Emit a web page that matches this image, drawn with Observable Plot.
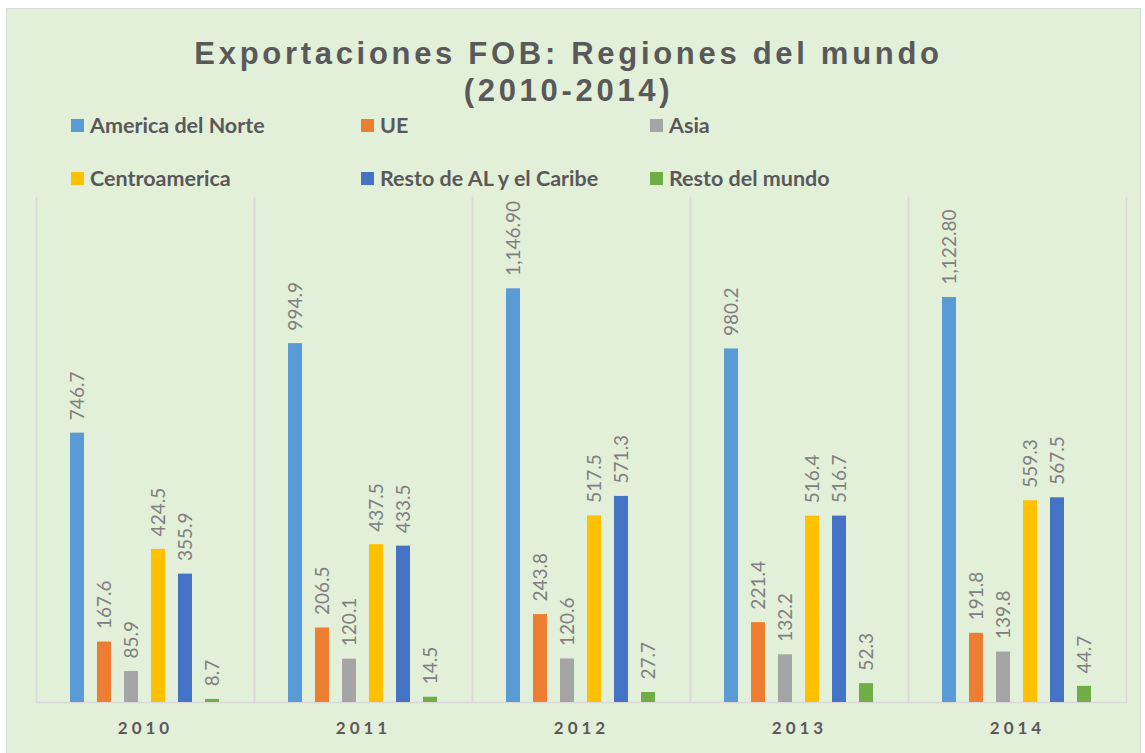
<!DOCTYPE html>
<html>
<head>
<meta charset="utf-8">
<script src="https://cdn.jsdelivr.net/npm/d3@7"></script>
<script src="https://cdn.jsdelivr.net/npm/@observablehq/plot@0.6"></script>
<style>
  html, body { margin: 0; padding: 0; background: #ffffff; width: 1145px; height: 753px; overflow: hidden; position: relative; }
  #panel { position: absolute; left: 6px; top: 8px; width: 1133px; height: 760px; background: #E2EFD9; border: 1.5px solid #D9D9D9; }
  #title { position: absolute; left: 0; top: 35px; width: 1137px; text-align: center; font-family: "Liberation Sans", Arial, sans-serif; font-weight: bold; font-size: 31px; line-height: 37px; letter-spacing: 3.7px; color: #595959; }
  #legend { position: absolute; left: 71px; top: 112px; display: grid; grid-template-columns: 290px 289px auto; grid-auto-rows: 53px; font-family: Lato, sans-serif; font-weight: bold; font-size: 21.5px; color: #595959; }
  #legend .item { display: flex; align-items: center; height: 26px; }
  #legend .sw { width: 13px; height: 13px; margin-right: 6px; flex: none; }
  #chart { position: absolute; left: 0; top: 190px; }
  #chart svg { background: transparent; }
  #chart g[aria-label="fx-axis tick label"] text { letter-spacing: 4px; }
</style>
</head>
<body>
<div id="panel"></div>
<div id="title">Exportaciones FOB: Regiones del mundo<br>(2010-2014)</div>
<div id="legend"></div>
<div id="chart"></div>
<script>
const years = ["2010", "2011", "2012", "2013", "2014"];
const series = ["America del Norte", "UE", "Asia", "Centroamerica", "Resto de AL y el Caribe", "Resto del mundo"];
const colors = ["#5B9BD5", "#ED7D31", "#A5A5A5", "#FFC000", "#4472C4", "#70AD47"];
const americaNorte = [746.7, 994.9, 1146.9, 980.2, 1122.8];
const ue = [167.6, 206.5, 243.8, 221.4, 191.8];
const asia = [85.9, 120.1, 120.6, 132.2, 139.8];
const centroamerica = [424.5, 437.5, 517.5, 516.4, 559.3];
const restoAL = [355.9, 433.5, 571.3, 516.7, 567.5];
const restoMundo = [8.7, 14.5, 27.7, 52.3, 44.7];
const seriesValues = [americaNorte, ue, asia, centroamerica, restoAL, restoMundo];

const data = [];
years.forEach((y, i) => series.forEach((s, j) => data.push({year: y, series: s, value: seriesValues[j][i]})));

const fmt = v => v >= 1000 ? d3.format(",.2f")(v) : d3.format(".1f")(v);

// legend
const legend = document.getElementById("legend");
series.forEach((s, j) => {
  const it = document.createElement("div");
  it.className = "item";
  it.innerHTML = `<span class="sw" style="background:${colors[j]}"></span><span>${s}</span>`;
  legend.appendChild(it);
});

const chart = Plot.plot({
  width: 1145,
  height: 560,
  marginTop: 7,
  marginBottom: 48,
  marginLeft: 35,
  marginRight: 18,
  style: {background: "transparent", fontFamily: "Lato, sans-serif"},
  fx: {domain: years, padding: 0, label: null},
  x: {domain: series, axis: null, paddingInner: 0.47, paddingOuter: 1.15},
  y: {domain: [0, 1400], axis: null},
  color: {domain: series, range: colors},
  marks: [
    Plot.frame({anchor: "left", stroke: "#D9D9D9", strokeWidth: 1.5}),
    Plot.frame({anchor: "right", stroke: "#D9D9D9", strokeWidth: 1.5}),
    Plot.ruleY([0], {stroke: "#D9D9D9", strokeWidth: 1.5}),
    Plot.barY(data, {fx: "year", x: "series", y: "value", fill: "series"}),
    Plot.text(data, {fx: "year", x: "series", y: "value", text: d => fmt(d.value), rotate: -90, textAnchor: "start", dy: -13, fill: "#7F7F7F", fontSize: 19, fontFamily: "Lato, sans-serif"}),
    Plot.axisFx({anchor: "bottom", tickSize: 0, tickPadding: 19, fontSize: 17, fontWeight: "bold", fill: "#595959", fontFamily: "Lato, sans-serif", label: null})
  ]
});
document.getElementById("chart").appendChild(chart);
</script>
</body>
</html>
